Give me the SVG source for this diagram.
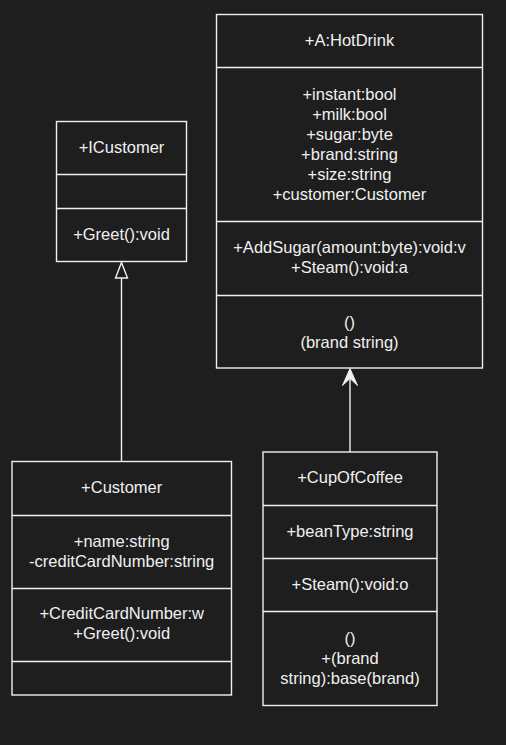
<svg xmlns="http://www.w3.org/2000/svg" width="506" height="745" viewBox="0 0 506 745">
<defs>
<style>
.box{fill:#1e1e1e;stroke:#f0f0f0;stroke-width:1.4}
.div{stroke:#f0f0f0;stroke-width:1.4;fill:none}
text{font-family:"Liberation Sans",Arial,sans-serif;font-size:16.5px;fill:#f0f0f0;text-anchor:middle}
.edge{stroke:#f0f0f0;stroke-width:1.4;fill:none}
</style>
</defs>
<rect width="506" height="745" fill="#1e1e1e"/>
<g id="HotDrink">
<rect class="box" x="216.5" y="14.5" width="266" height="353.5"/>
<line class="div" x1="216.5" y1="67.5" x2="482.5" y2="67.5"/>
<line class="div" x1="216.5" y1="221.5" x2="482.5" y2="221.5"/>
<line class="div" x1="216.5" y1="295.5" x2="482.5" y2="295.5"/>
<text x="349.5" y="46">+A:HotDrink</text>
<text x="349.5" y="100">+instant:bool</text>
<text x="349.5" y="120">+milk:bool</text>
<text x="349.5" y="140">+sugar:byte</text>
<text x="349.5" y="160">+brand:string</text>
<text x="349.5" y="180">+size:string</text>
<text x="349.5" y="200">+customer:Customer</text>
<text x="349.5" y="253">+AddSugar(amount:byte):void:v</text>
<text x="349.5" y="273">+Steam():void:a</text>
<text x="349.5" y="328">()</text>
<text x="349.5" y="348">(brand string)</text>
</g>
<g id="ICustomer">
<rect class="box" x="56.5" y="121.5" width="130" height="140"/>
<line class="div" x1="56.5" y1="174.5" x2="186.5" y2="174.5"/>
<line class="div" x1="56.5" y1="208.5" x2="186.5" y2="208.5"/>
<text x="121.5" y="153">+ICustomer</text>
<text x="121.5" y="240">+Greet():void</text>
</g>
<g id="Customer">
<rect class="box" x="12" y="461.5" width="219.5" height="233.5"/>
<line class="div" x1="12" y1="515.5" x2="231.5" y2="515.5"/>
<line class="div" x1="12" y1="588.5" x2="231.5" y2="588.5"/>
<line class="div" x1="12" y1="661.5" x2="231.5" y2="661.5"/>
<text x="121.7" y="493">+Customer</text>
<text x="121.7" y="546.5">+name:string</text>
<text x="121.7" y="566.5">-creditCardNumber:string</text>
<text x="121.7" y="619">+CreditCardNumber:w</text>
<text x="121.7" y="639">+Greet():void</text>
</g>
<g id="CupOfCoffee">
<rect class="box" x="263" y="452" width="174" height="253.5"/>
<line class="div" x1="263" y1="505.5" x2="437" y2="505.5"/>
<line class="div" x1="263" y1="558.5" x2="437" y2="558.5"/>
<line class="div" x1="263" y1="611.5" x2="437" y2="611.5"/>
<text x="350" y="483">+CupOfCoffee</text>
<text x="350" y="536.5">+beanType:string</text>
<text x="350" y="590">+Steam():void:o</text>
<text x="350" y="644">()</text>
<text x="350" y="664">+(brand</text>
<text x="350" y="684">string):base(brand)</text>
</g>
<g id="connectors">
<line class="edge" x1="121.5" y1="461.5" x2="121.5" y2="278"/>
<path d="M121.5 262.5 L127.5 278 L115.5 278 Z" fill="#1e1e1e" stroke="#f0f0f0" stroke-width="1.4"/>
<line class="edge" x1="350" y1="452" x2="350" y2="376"/>
<path d="M350 368.5 L357.5 385.5 L350 378.5 L342.5 385.5 Z" fill="#f0f0f0" stroke="#f0f0f0" stroke-width="1" stroke-linejoin="miter"/>
</g>
</svg>
